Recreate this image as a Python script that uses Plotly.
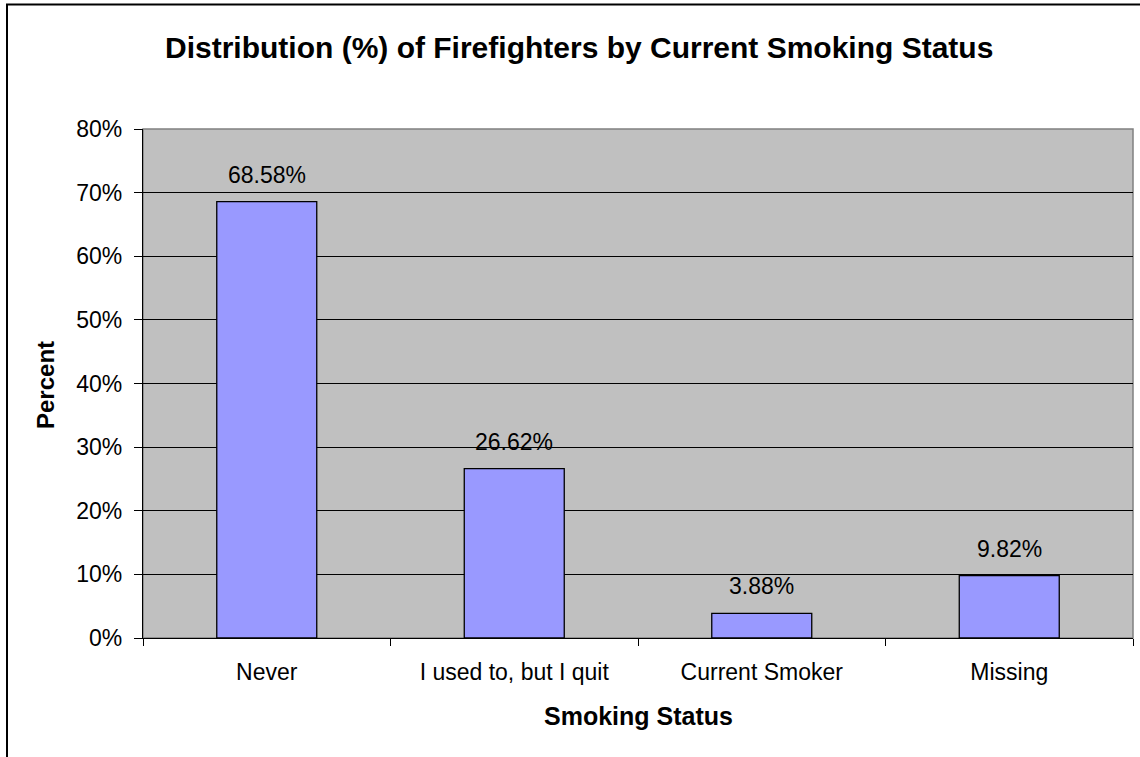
import plotly.graph_objects as go

# Smoking status categories and share of firefighters in each (%)
categories = ["Never", "I used to, but I quit", "Current Smoker", "Missing"]
percents = [68.58, 26.62, 3.88, 9.82]
y_ticks = [0, 10, 20, 30, 40, 50, 60, 70, 80]
y_tick_labels = [f"{t}%" for t in y_ticks]

W, H = 1140, 757
L, R, T, B = 143, 7, 129, 119
pw, ph = W - L - R, H - T - B
FONT = "Liberation Sans, Arial, sans-serif"


def px_x(x):
    return (x - L) / pw


def px_y(y):
    return 1 - (y - T) / ph


fig = go.Figure()
fig.add_trace(go.Bar(
    x=categories,
    y=percents,
    width=0.404,
    marker=dict(color="#9999FF", line=dict(color="#000000", width=1.3)),
    hoverinfo="skip",
))

annotations = []
for c, v in zip(categories, percents):
    annotations.append(dict(
        x=c, y=v, xref="x", yref="y", text=f"{v:.2f}%", showarrow=False,
        yanchor="bottom", yshift=12, font=dict(family=FONT, size=23, color="#000"),
    ))

annotations += [
    dict(x=px_x(579), y=px_y(48), xref="paper", yref="paper",
         text="<b>Distribution (%) of Firefighters by Current Smoking Status</b>",
         showarrow=False, xanchor="center", yanchor="middle",
         font=dict(family=FONT, size=30, color="#000")),
    dict(x=px_x(45), y=px_y(385), xref="paper", yref="paper", text="<b>Percent</b>",
         showarrow=False, textangle=-90, xanchor="center", yanchor="middle",
         font=dict(family=FONT, size=24, color="#000")),
    dict(x=px_x(638), y=px_y(716), xref="paper", yref="paper", text="<b>Smoking Status</b>",
         showarrow=False, xanchor="center", yanchor="middle",
         font=dict(family=FONT, size=25, color="#000")),
]

shapes = [
    # outer chart frame
    dict(type="rect", xref="paper", yref="paper", x0=px_x(7), x1=px_x(1145),
         y0=px_y(765), y1=px_y(4.5), line=dict(color="#000", width=2), layer="below"),
    # plot-area border (top/right)
    dict(type="rect", xref="paper", yref="paper", x0=0, x1=1, y0=0, y1=1,
         line=dict(color="#808080", width=1.5), layer="below"),
]

fig.update_layout(
    width=W, height=H,
    margin=dict(l=L, r=R, t=T, b=B, pad=0),
    paper_bgcolor="#FFFFFF",
    plot_bgcolor="#C0C0C0",
    showlegend=False,
    bargap=0.596,
    font=dict(family=FONT, size=23, color="#000"),
    annotations=annotations,
    shapes=shapes,
)
fig.update_xaxes(
    type="category",
    tickson="boundaries",
    ticks="outside", ticklen=7, tickcolor="#000", tickwidth=1,
    showline=True, linecolor="#000", linewidth=1.3,
    showgrid=False,
    ticklabelstandoff=13,
    tickfont=dict(family=FONT, size=23, color="#000"),
)
fig.update_yaxes(
    range=[0, 80],
    tickvals=y_ticks, ticktext=y_tick_labels,
    ticks="outside", ticklen=8, tickcolor="#000", tickwidth=1,
    showline=True, linecolor="#000", linewidth=1.3,
    showgrid=True, gridcolor="#000", gridwidth=1,
    zeroline=False,
    ticklabelstandoff=7,
    tickfont=dict(family=FONT, size=23, color="#000"),
)

fig.write_html("out.html")
